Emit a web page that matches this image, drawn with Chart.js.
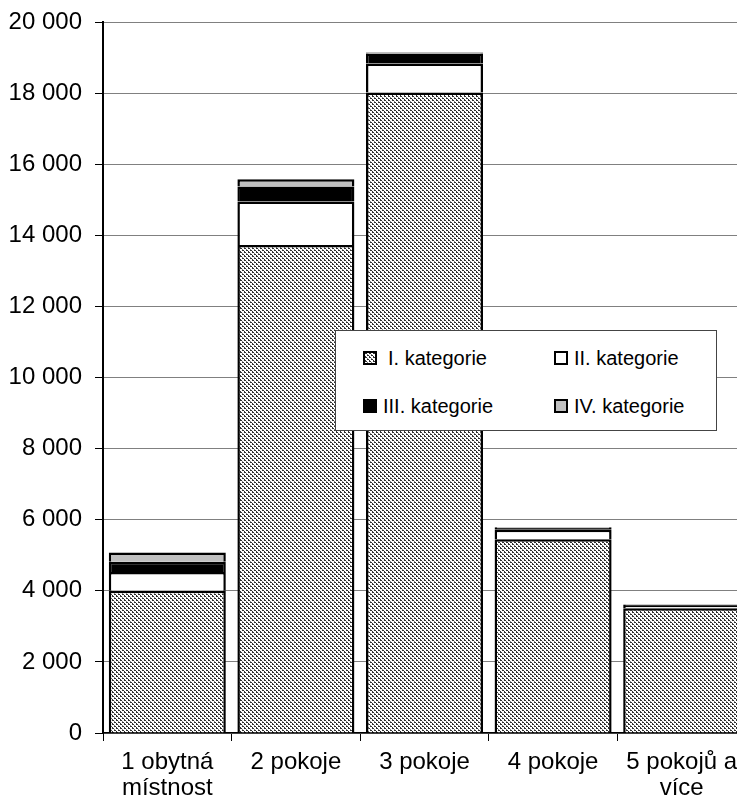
<!DOCTYPE html>
<html>
<head>
<meta charset="utf-8">
<script src="https://cdn.jsdelivr.net/npm/chart.js@4"></script>
<style>
html, body { margin: 0; padding: 0; overflow: hidden; background: #fff; }
#wrap { position: relative; width: 750px; height: 810px; }
#legend { position: absolute; left: 335px; top: 330px; width: 380px; height: 99px; border: 1px solid #444; background: #fff;
  font-family: "Liberation Sans", Arial, sans-serif; font-size: 20px; color: #000; }
.item { position: absolute; display: flex; align-items: center; height: 24px; }
.sw { width: 10px; height: 10px; border: 2px solid #000; margin-right: 6px; }
</style>
</head>
<body>
<div id="wrap">
  <canvas id="c" width="750" height="810"></canvas>
  <div id="legend"></div>
</div>
<script>
const categories = [["1 obytná", "místnost"], "2 pokoje", "3 pokoje", "4 pokoje", ["5 pokojů a", "více"]];
const seriesNames = ["I. kategorie", "II. kategorie", "III. kategorie", "IV. kategorie"];
const catI   = [4000, 13730, 18020, 5450, 3510];
const catII  = [530, 1220, 815, 270, 60];
const catIII = [290, 420, 280, 50, 40];
const catIV  = [260, 210, 30, 20, 15];
const yTicks = [0, 2000, 4000, 6000, 8000, 10000, 12000, 14000, 16000, 18000, 20000];

function makePatternCanvas() {
  const pc = document.createElement('canvas');
  pc.width = 4; pc.height = 4;
  const p = pc.getContext('2d');
  p.fillStyle = '#ffffff'; p.fillRect(0, 0, 4, 4);
  const map = ["1100", "0020", "0011", "1000"];
  for (let y = 0; y < 4; y++) for (let x = 0; x < 4; x++) {
    const v = map[y][x];
    if (v === '1') { p.fillStyle = '#303030'; p.fillRect(x, y, 1, 1); }
    if (v === '2') { p.fillStyle = '#808080'; p.fillRect(x, y, 1, 1); }
  }
  return pc;
}
const patCanvas = makePatternCanvas();
const ctx = document.getElementById('c').getContext('2d');
const pattern = ctx.createPattern(patCanvas, 'repeat');

const fills = [pattern, '#ffffff', '#000000', '#c0c0c0'];
const values = [catI, catII, catIII, catIV];

const FONT = "'Liberation Sans', Arial, sans-serif";

const chart = new Chart(ctx, {
  type: 'bar',
  data: {
    labels: categories,
    datasets: seriesNames.map((n, i) => ({
      label: n,
      data: values[i],
      backgroundColor: fills[i],
      borderColor: '#000000',
      borderWidth: 2.5,
      categoryPercentage: 0.91,
      barPercentage: 1.0
    }))
  },
  options: {
    responsive: false,
    animation: false,
    devicePixelRatio: 1,
    layout: { padding: { top: 17, right: 4, bottom: 0, left: 0 } },
    plugins: { legend: { display: false }, tooltip: { enabled: false } },
    scales: {
      x: {
        stacked: true,
        offset: true,
        grid: { display: true, drawOnChartArea: false, drawTicks: true, tickLength: 8, color: '#000', lineWidth: 1 },
        border: { display: true, color: '#000', width: 1.5 },
        ticks: { color: '#000', font: { family: FONT, size: 24, lineHeight: 1.08 }, padding: 8, maxRotation: 0, autoSkip: false },
        afterFit: s => { s.height = 77; }
      },
      y: {
        stacked: true,
        min: 0, max: 20000,
        afterBuildTicks: s => { s.ticks = yTicks.map(v => ({ value: v })); },
        grid: { color: '#808080', lineWidth: 1, tickColor: '#000', tickLength: 8, drawTicks: true },
        border: { display: true, color: '#000', width: 2 },
        ticks: {
          color: '#000', font: { family: FONT, size: 24, lineHeight: 0.75 }, padding: 13,
          callback: v => String(v).replace(/\B(?=(\d{3})+(?!\d))/g, ' ')
        },
        afterFit: s => { s.width = 103; }
      }
    }
  }
});

// HTML legend
const legend = document.getElementById('legend');
const patURL = (() => {
  const c = document.createElement('canvas'); c.width = 12; c.height = 12;
  const g = c.getContext('2d'); g.fillStyle = g.createPattern(patCanvas, 'repeat'); g.fillRect(0, 0, 12, 12);
  return c.toDataURL();
})();
const pos = [[27, 15], [218, 15], [27, 63], [218, 63]];
chart.data.datasets.forEach((ds, i) => {
  const it = document.createElement('div');
  it.className = 'item';
  it.style.left = pos[i][0] + 'px';
  it.style.top = pos[i][1] + 'px';
  const sw = document.createElement('span');
  sw.className = 'sw';
  if (i === 0) { sw.style.backgroundImage = 'url(' + patURL + ')'; sw.style.marginRight = '11px'; }
  else sw.style.background = ds.backgroundColor;
  const tx = document.createElement('span');
  tx.textContent = ds.label;
  it.appendChild(sw); it.appendChild(tx);
  legend.appendChild(it);
});
</script>
</body>
</html>
